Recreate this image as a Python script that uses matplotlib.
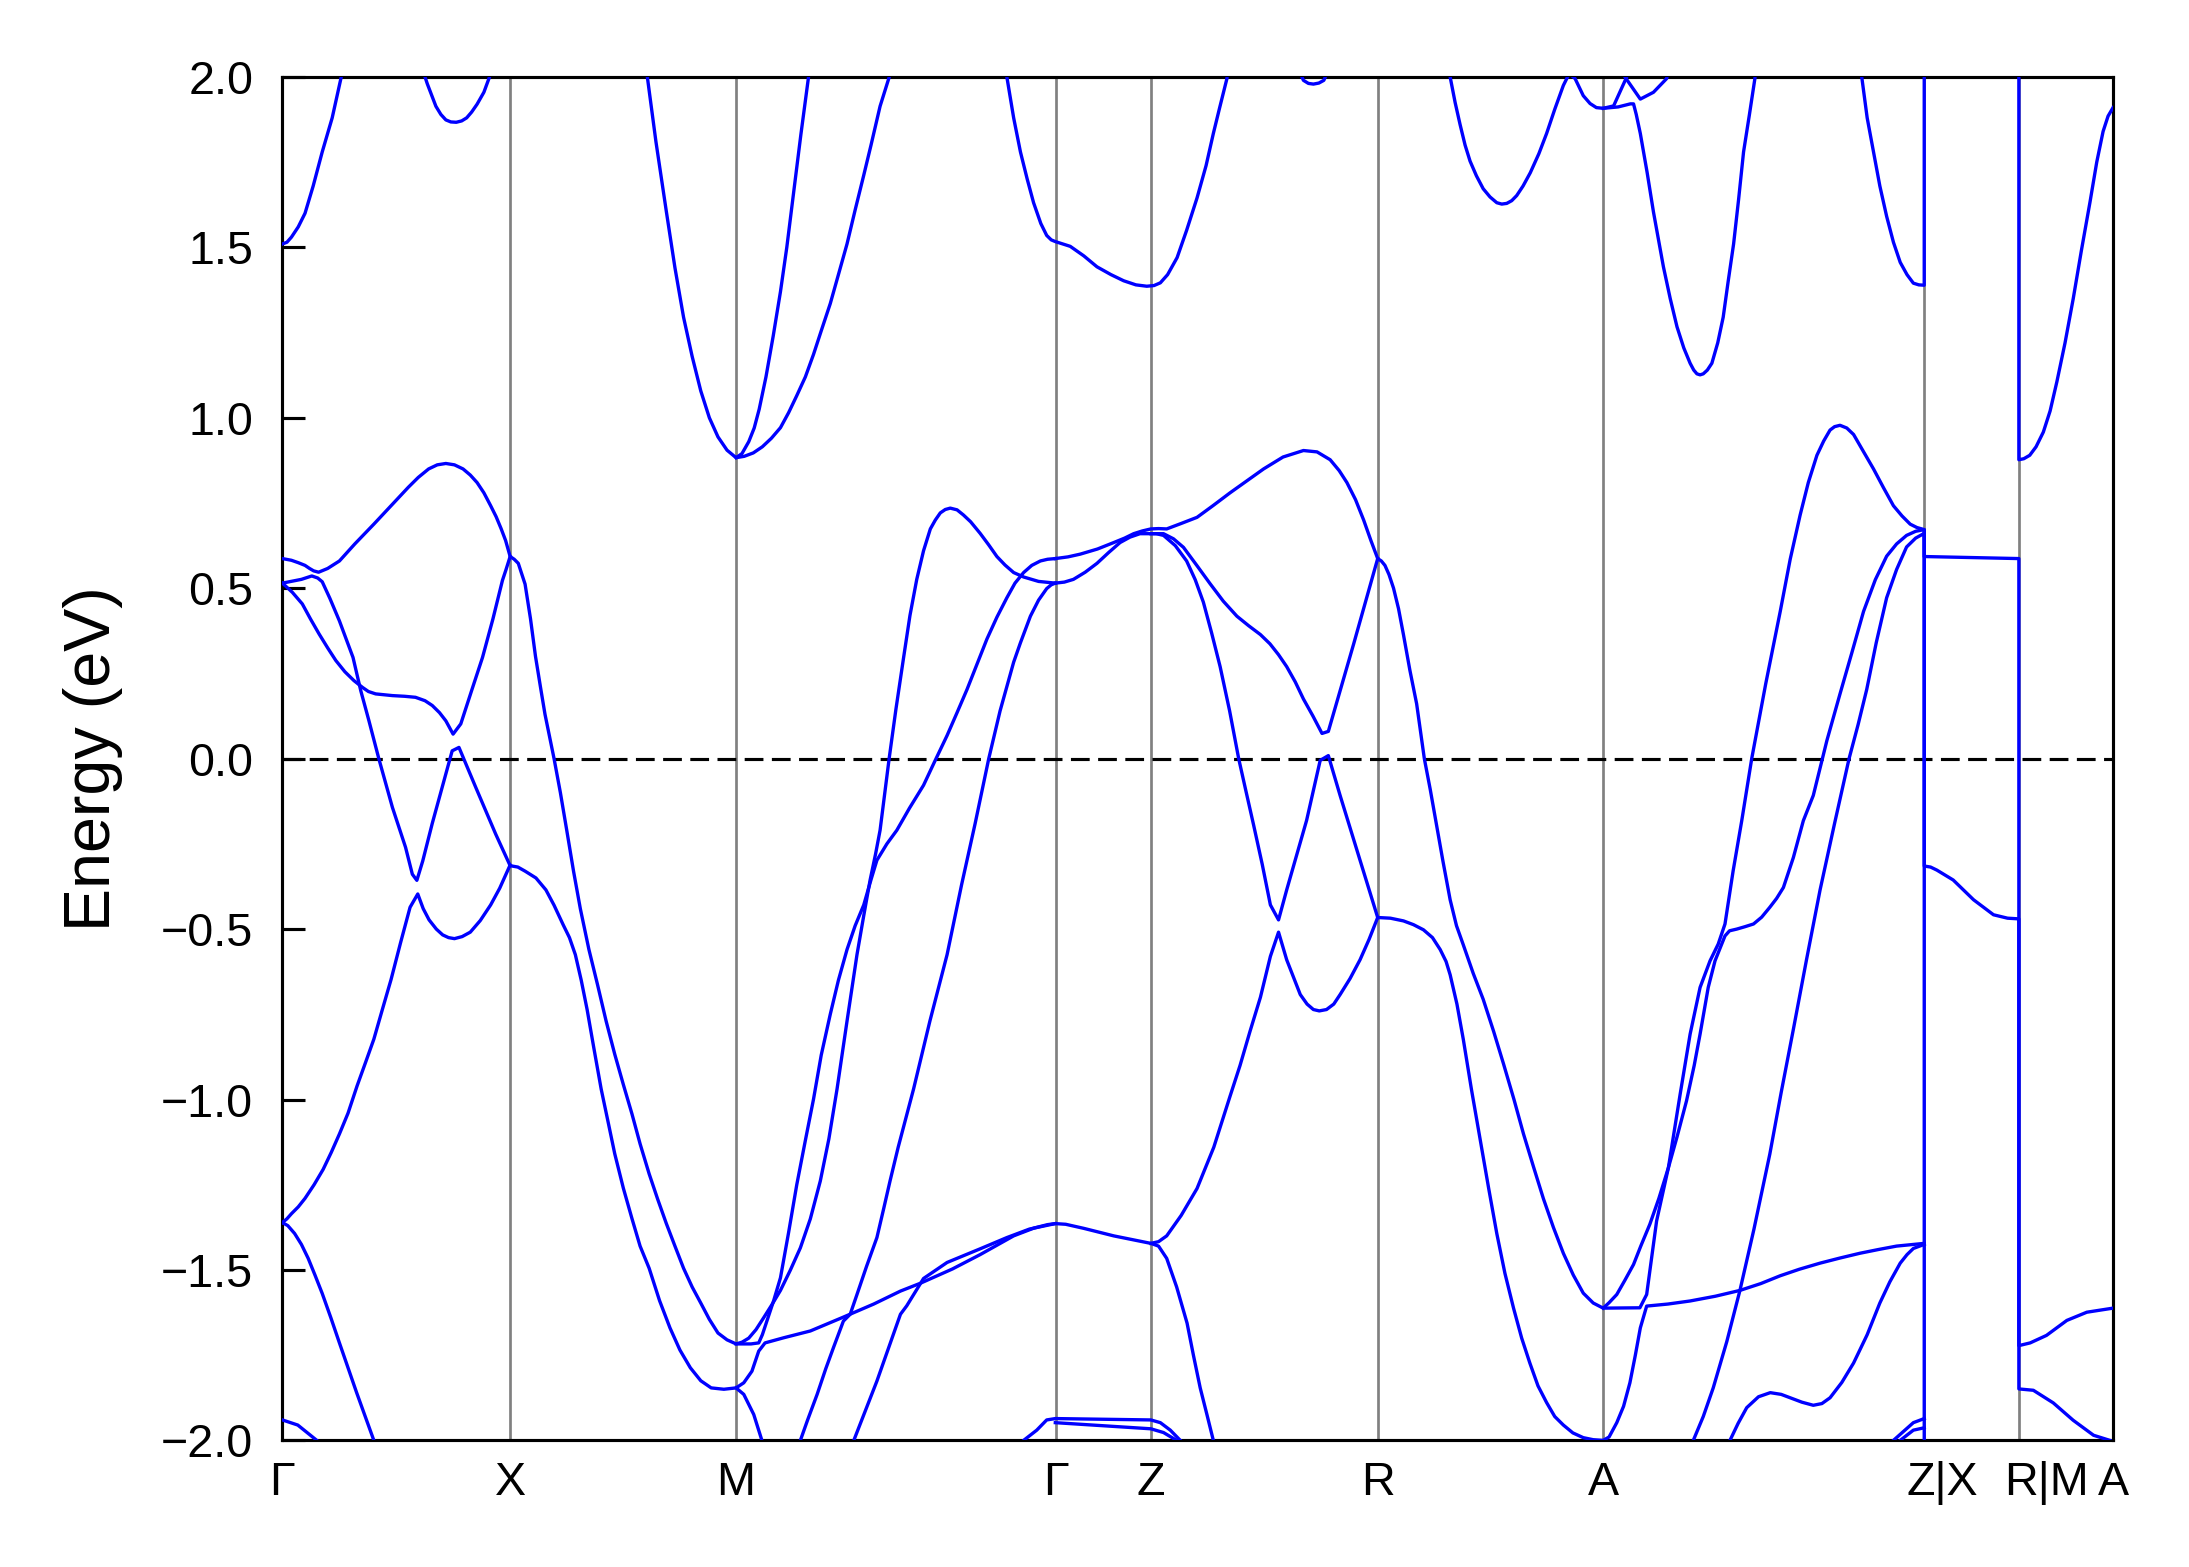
# -*- coding: utf-8 -*-
"""
Band structure along the high-symmetry path, E - E_F in eV.
"""

import matplotlib
matplotlib.use("Agg")
import matplotlib.pyplot as plt
import numpy as np

# high-symmetry points (k-path distance, 2pi/a units)
kpath_pos = [0.0, 0.503, 1.002, 1.708, 1.918, 2.419, 2.917, 3.626, 3.835, 4.043]
kpath_labels = ["Γ", "X", "M", "Γ", "Z", "R", "A", "Z|X", "R|M", "A"]
# where the label text sits (the two split labels sit a bit right of their line)
label_pos = [0.0, 0.503, 1.002, 1.708, 1.918, 2.419, 2.917, 3.666, 3.895, 4.043]

# band curves, (k, E) pairs
cb_gamma_x = [(0.0, 1.51), (0.01, 1.515), (0.02, 1.53), (0.035, 1.56), (0.05, 1.60),
              (0.068, 1.68), (0.088, 1.78), (0.11, 1.88), (0.13, 2.0), (0.137, 2.05)]
cb_pocket_x = [(0.31, 2.02), (0.32, 1.98), (0.339, 1.914), (0.35, 1.89), (0.361, 1.874),
               (0.372, 1.868), (0.384, 1.867), (0.396, 1.871), (0.407, 1.88), (0.418, 1.897),
               (0.43, 1.92), (0.445, 1.955), (0.463, 2.02)]
cb_m_wide = [(0.80, 2.05), (0.806, 2.0), (0.825, 1.81), (0.848, 1.605), (0.867, 1.44),
             (0.886, 1.295), (0.905, 1.18), (0.924, 1.079), (0.943, 1.0), (0.962, 0.944),
             (0.982, 0.905), (1.002, 0.883), (1.02, 0.887), (1.04, 0.897), (1.06, 0.915),
             (1.08, 0.94), (1.10, 0.971), (1.118, 1.015), (1.136, 1.065), (1.155, 1.12),
             (1.173, 1.186), (1.19, 1.255), (1.21, 1.335), (1.228, 1.42), (1.247, 1.51),
             (1.265, 1.61), (1.284, 1.712), (1.30, 1.80), (1.32, 1.914), (1.345, 2.02)]
cb_m_steep = [(1.002, 0.883), (1.015, 0.895), (1.03, 0.93), (1.042, 0.97), (1.053, 1.025),
              (1.068, 1.12), (1.084, 1.24), (1.10, 1.37), (1.114, 1.5), (1.129, 1.66),
              (1.145, 1.83), (1.162, 2.0), (1.167, 2.05)]
cb_gamma_z = [(1.595, 2.05), (1.60, 2.0), (1.615, 1.88), (1.63, 1.78), (1.645, 1.70),
              (1.659, 1.631), (1.675, 1.57), (1.688, 1.535), (1.698, 1.522), (1.707, 1.517),
              (1.74, 1.503), (1.77, 1.475), (1.799, 1.443), (1.83, 1.42), (1.858, 1.402),
              (1.885, 1.39), (1.909, 1.386), (1.925, 1.388), (1.939, 1.396), (1.955, 1.42),
              (1.976, 1.47), (1.997, 1.55), (2.02, 1.645), (2.04, 1.74), (2.056, 1.834),
              (2.07, 1.91), (2.086, 1.995), (2.09, 2.05)]
cb_pocket_r = [(2.245, 2.02), (2.255, 1.99), (2.266, 1.981), (2.277, 1.979), (2.289, 1.982),
               (2.30, 1.99), (2.31, 2.02)]
cb_r_a = [(2.575, 2.05), (2.579, 2.0), (2.59, 1.925), (2.601, 1.86), (2.612, 1.80),
          (2.623, 1.753), (2.637, 1.71), (2.652, 1.672), (2.667, 1.648), (2.682, 1.631),
          (2.693, 1.627), (2.704, 1.629), (2.715, 1.637), (2.726, 1.652), (2.74, 1.68),
          (2.756, 1.719), (2.775, 1.775), (2.792, 1.834), (2.81, 1.905), (2.829, 1.975),
          (2.842, 2.01), (2.855, 1.995), (2.873, 1.945), (2.888, 1.922), (2.902, 1.91),
          (2.917, 1.908), (2.95, 1.912), (2.977, 1.921), (2.984, 1.921), (2.99, 1.89),
          (2.999, 1.834), (3.014, 1.72), (3.028, 1.604), (3.05, 1.443), (3.065, 1.35),
          (3.08, 1.267), (3.095, 1.205), (3.109, 1.16), (3.117, 1.14), (3.124, 1.129),
          (3.131, 1.126), (3.138, 1.129), (3.147, 1.14), (3.157, 1.16), (3.17, 1.22),
          (3.182, 1.295), (3.193, 1.40), (3.205, 1.51), (3.216, 1.64), (3.227, 1.78),
          (3.24, 1.89), (3.252, 1.995), (3.256, 2.05)]
cb_a_up = [(2.917, 1.908), (2.94, 1.915), (2.969, 2.0), (2.975, 2.03)]
cb_a_small = [(2.955, 2.03), (2.965, 2.0), (2.999, 1.935), (3.028, 1.955), (3.057, 1.995),
              (3.062, 2.02)]
cb_zx = [(3.484, 2.05), (3.488, 2.0), (3.50, 1.88), (3.514, 1.78), (3.528, 1.68),
         (3.543, 1.591), (3.558, 1.515), (3.573, 1.456), (3.588, 1.42), (3.602, 1.395),
         (3.614, 1.39), (3.626, 1.389), (3.626, 2.1)]
cb_rm = [(3.835, 2.1), (3.835, 0.877), (3.846, 0.88), (3.859, 0.89), (3.873, 0.915),
         (3.889, 0.958), (3.904, 1.02), (3.919, 1.106), (3.937, 1.22), (3.955, 1.349),
         (3.973, 1.49), (3.992, 1.632), (4.007, 1.75), (4.021, 1.84), (4.032, 1.885),
         (4.043, 1.91)]

vb_a = [(0.0, 0.587), (0.02, 0.582), (0.035, 0.575), (0.05, 0.567), (0.06, 0.558),
        (0.069, 0.551), (0.08, 0.547), (0.1, 0.558), (0.126, 0.58), (0.16, 0.63),
        (0.202, 0.688), (0.24, 0.742), (0.278, 0.796), (0.30, 0.825), (0.323, 0.85),
        (0.342, 0.862), (0.361, 0.866), (0.38, 0.862), (0.399, 0.85), (0.415, 0.832),
        (0.43, 0.81), (0.445, 0.78), (0.46, 0.742), (0.472, 0.71), (0.483, 0.675),
        (0.493, 0.64), (0.503, 0.593), (0.512, 0.585), (0.521, 0.573), (0.536, 0.512),
        (0.548, 0.41), (0.559, 0.30), (0.57, 0.21), (0.58, 0.13), (0.59, 0.065),
        (0.60, 0.0), (0.614, -0.1), (0.628, -0.21), (0.643, -0.33), (0.658, -0.44),
        (0.677, -0.56), (0.696, -0.663), (0.715, -0.77), (0.734, -0.867), (0.753, -0.956),
        (0.772, -1.042), (0.79, -1.13), (0.81, -1.218), (0.829, -1.293), (0.848, -1.364),
        (0.867, -1.43), (0.886, -1.495), (0.905, -1.55), (0.924, -1.597), (0.943, -1.645),
        (0.962, -1.685), (0.982, -1.705), (1.002, -1.717), (1.015, -1.712), (1.03, -1.70),
        (1.046, -1.675), (1.063, -1.64), (1.082, -1.60), (1.1, -1.56), (1.122, -1.50),
        (1.144, -1.435), (1.166, -1.35), (1.188, -1.239), (1.207, -1.115), (1.225, -0.969),
        (1.247, -0.77), (1.269, -0.575), (1.284, -0.46), (1.298, -0.356), (1.31, -0.28),
        (1.32, -0.21), (1.34, 0.0), (1.355, 0.145), (1.372, 0.297), (1.386, 0.42),
        (1.401, 0.526), (1.416, 0.61), (1.431, 0.674), (1.442, 0.70), (1.453, 0.721),
        (1.464, 0.731), (1.475, 0.735), (1.49, 0.73), (1.504, 0.715), (1.52, 0.695),
        (1.541, 0.661), (1.56, 0.627), (1.578, 0.593), (1.596, 0.568), (1.615, 0.546),
        (1.637, 0.533), (1.67, 0.52), (1.707, 0.515)]
vb_b = [(0.0, 0.515), (0.042, 0.526), (0.065, 0.536), (0.078, 0.53), (0.088, 0.519),
        (0.105, 0.47), (0.126, 0.404), (0.156, 0.297), (0.173, 0.2), (0.191, 0.112),
        (0.213, 0.0), (0.243, -0.143), (0.272, -0.26), (0.287, -0.339), (0.297, -0.357),
        (0.31, -0.30), (0.331, -0.19), (0.375, 0.023), (0.39, 0.033), (0.427, -0.084),
        (0.471, -0.221), (0.503, -0.314), (0.52, -0.318), (0.536, -0.33), (0.56, -0.35),
        (0.582, -0.385), (0.60, -0.43), (0.62, -0.487), (0.634, -0.525), (0.647, -0.575),
        (0.66, -0.65), (0.673, -0.736), (0.688, -0.85), (0.704, -0.969), (0.72, -1.07),
        (0.734, -1.159), (0.753, -1.26), (0.772, -1.349), (0.79, -1.43), (0.81, -1.495),
        (0.833, -1.59), (0.856, -1.67), (0.878, -1.735), (0.901, -1.787), (0.924, -1.825),
        (0.947, -1.846), (0.975, -1.85), (1.002, -1.846), (1.019, -1.831), (1.037, -1.797),
        (1.052, -1.738), (1.066, -1.714), (1.107, -1.699), (1.166, -1.679), (1.236, -1.64),
        (1.306, -1.6), (1.365, -1.562), (1.409, -1.539), (1.48, -1.497), (1.541, -1.455),
        (1.615, -1.40), (1.66, -1.377), (1.69, -1.367), (1.707, -1.364), (1.73, -1.366),
        (1.77, -1.378), (1.836, -1.40), (1.918, -1.422), (1.935, -1.43), (1.953, -1.466),
        (1.975, -1.55), (1.998, -1.656), (2.012, -1.75), (2.027, -1.846), (2.042, -1.925),
        (2.056, -2.0), (2.062, -2.04)]
vb_c = [(0.0, 0.515), (0.022, 0.488), (0.044, 0.454), (0.062, 0.41), (0.081, 0.366),
        (0.10, 0.325), (0.118, 0.288), (0.138, 0.255), (0.158, 0.229), (0.177, 0.209),
        (0.19, 0.197), (0.206, 0.19), (0.243, 0.185), (0.27, 0.183), (0.294, 0.18),
        (0.315, 0.17), (0.331, 0.156), (0.347, 0.135), (0.361, 0.111), (0.377, 0.072),
        (0.394, 0.102), (0.418, 0.20), (0.442, 0.297), (0.465, 0.41), (0.486, 0.523),
        (0.494, 0.555), (0.503, 0.593)]
vb_d = [(0.0, -1.361), (0.01, -1.35), (0.02, -1.335), (0.035, -1.315), (0.05, -1.29),
        (0.07, -1.25), (0.09, -1.205), (0.108, -1.155), (0.126, -1.101), (0.145, -1.04),
        (0.165, -0.96), (0.184, -0.89), (0.202, -0.823), (0.221, -0.735), (0.24, -0.648),
        (0.261, -0.54), (0.282, -0.436), (0.299, -0.397), (0.311, -0.44), (0.324, -0.473),
        (0.34, -0.50), (0.354, -0.517), (0.367, -0.525), (0.38, -0.528), (0.397, -0.522),
        (0.415, -0.509), (0.437, -0.475), (0.46, -0.429), (0.48, -0.38), (0.503, -0.312)]
vb_e = [(0.0, -1.361), (0.012, -1.37), (0.027, -1.393), (0.042, -1.425), (0.057, -1.466),
        (0.072, -1.515), (0.088, -1.569), (0.107, -1.64), (0.126, -1.714), (0.145, -1.787),
        (0.164, -1.86), (0.183, -1.93), (0.202, -2.0), (0.21, -2.03)]
vb_f = [(0.0, -1.94), (0.034, -1.955), (0.076, -2.0), (0.085, -2.01)]
vb_g = [(1.002, -1.717), (1.035, -1.717), (1.052, -1.714), (1.06, -1.69), (1.07, -1.65),
        (1.085, -1.59), (1.1, -1.523), (1.118, -1.39), (1.136, -1.25), (1.155, -1.12),
        (1.173, -0.999), (1.19, -0.87), (1.21, -0.75), (1.228, -0.65), (1.247, -0.56),
        (1.265, -0.49), (1.284, -0.429), (1.30, -0.355), (1.313, -0.298), (1.335, -0.25),
        (1.357, -0.21), (1.385, -0.145), (1.416, -0.078), (1.44, -0.01), (1.468, 0.068),
        (1.49, 0.135), (1.512, 0.203), (1.534, 0.277), (1.556, 0.351), (1.578, 0.415),
        (1.60, 0.472), (1.618, 0.515), (1.637, 0.546), (1.655, 0.567), (1.674, 0.58),
        (1.69, 0.585), (1.707, 0.587)]
vb_h = [(1.135, -2.03), (1.144, -2.0), (1.16, -1.94), (1.181, -1.865), (1.20, -1.79),
        (1.217, -1.728), (1.239, -1.65), (1.254, -1.63), (1.269, -1.572), (1.29, -1.49),
        (1.313, -1.405), (1.328, -1.32), (1.342, -1.239), (1.36, -1.14), (1.394, -0.969),
        (1.43, -0.77), (1.468, -0.575), (1.50, -0.37), (1.53, -0.19), (1.56, 0.0),
        (1.585, 0.14), (1.615, 0.283), (1.63, 0.34), (1.652, 0.418), (1.67, 0.465),
        (1.688, 0.499), (1.698, 0.51), (1.707, 0.515)]
vb_i = [(1.255, -2.02), (1.262, -2.0), (1.313, -1.826), (1.365, -1.63), (1.379, -1.605),
        (1.416, -1.525), (1.468, -1.478), (1.541, -1.438), (1.60, -1.405), (1.65, -1.38),
        (1.707, -1.364)]
vb_m_low = [(1.002, -1.846), (1.019, -1.865), (1.041, -1.924), (1.059, -2.0), (1.063, -2.02)]
vb_gz_bot1 = [(1.63, -2.02), (1.637, -2.0), (1.666, -1.97), (1.688, -1.94), (1.707, -1.936),
              (1.918, -1.94), (1.939, -1.948), (1.961, -1.97), (1.983, -2.0), (1.99, -2.01)]
vb_gz_bot2 = [(1.707, -1.948), (1.918, -1.966), (1.946, -1.977), (1.975, -2.0), (1.985, -2.01)]
vb_z_up = [(1.918, -1.422), (1.935, -1.417), (1.953, -1.40), (1.985, -1.34), (2.02, -1.261),
           (2.057, -1.14), (2.093, -0.99), (2.115, -0.9), (2.137, -0.80), (2.16, -0.70),
           (2.182, -0.58), (2.2, -0.509), (2.218, -0.59), (2.248, -0.692), (2.263, -0.72),
           (2.277, -0.736), (2.29, -0.74), (2.306, -0.736), (2.322, -0.72), (2.336, -0.692),
           (2.358, -0.645), (2.38, -0.59), (2.40, -0.53), (2.419, -0.466)]
vb_upper = [(1.707, 0.587), (1.735, 0.592), (1.762, 0.60), (1.80, 0.615), (1.836, 0.634),
            (1.86, 0.647), (1.88, 0.66), (1.899, 0.668), (1.918, 0.674), (1.935, 0.675),
            (1.953, 0.674), (1.985, 0.69), (2.02, 0.708), (2.055, 0.742), (2.093, 0.78),
            (2.13, 0.815), (2.167, 0.85), (2.21, 0.885), (2.255, 0.904), (2.285, 0.90),
            (2.314, 0.877), (2.334, 0.845), (2.351, 0.81), (2.37, 0.76), (2.388, 0.70),
            (2.404, 0.64), (2.419, 0.587), (2.427, 0.58), (2.435, 0.567), (2.444, 0.54),
            (2.454, 0.50), (2.465, 0.44), (2.476, 0.363), (2.49, 0.26), (2.505, 0.161),
            (2.522, 0.0), (2.535, -0.09), (2.549, -0.195), (2.563, -0.30), (2.579, -0.414),
            (2.593, -0.49), (2.608, -0.546), (2.63, -0.63), (2.652, -0.706), (2.675, -0.80),
            (2.697, -0.896), (2.72, -1.0), (2.741, -1.101), (2.763, -1.197), (2.785, -1.291),
            (2.807, -1.375), (2.829, -1.451), (2.851, -1.515), (2.873, -1.568), (2.895, -1.597),
            (2.917, -1.612), (2.998, -1.611), (3.013, -1.572), (3.035, -1.356), (3.061, -1.2),
            (3.087, -0.984), (3.109, -0.808), (3.131, -0.671), (3.153, -0.593), (3.171, -0.544),
            (3.186, -0.485), (3.204, -0.329), (3.223, -0.182), (3.245, 0.0), (3.276, 0.22),
            (3.308, 0.432), (3.33, 0.585), (3.352, 0.715), (3.37, 0.81), (3.389, 0.89),
            (3.404, 0.932), (3.418, 0.964), (3.428, 0.974), (3.44, 0.978), (3.455, 0.97),
            (3.47, 0.951), (3.49, 0.905), (3.514, 0.85), (3.536, 0.795), (3.558, 0.742),
            (3.577, 0.712), (3.595, 0.688), (3.61, 0.678), (3.626, 0.672), (3.626, -2.1)]
vb_lower_gz = [(1.707, 0.515), (1.727, 0.518), (1.747, 0.526), (1.773, 0.547), (1.799, 0.573),
               (1.825, 0.605), (1.85, 0.634), (1.872, 0.65), (1.894, 0.66), (1.918, 0.66),
               (1.946, 0.66), (1.968, 0.645), (1.99, 0.62), (2.02, 0.566), (2.049, 0.513),
               (2.078, 0.462), (2.108, 0.418), (2.134, 0.39), (2.16, 0.364), (2.181, 0.337),
               (2.20, 0.305), (2.218, 0.27), (2.237, 0.225), (2.255, 0.175), (2.276, 0.125),
               (2.296, 0.074), (2.31, 0.08), (2.366, 0.337), (2.419, 0.587)]
vb_steep_z = [(1.918, 0.66), (1.93, 0.66), (1.946, 0.655), (1.972, 0.625), (1.997, 0.58),
              (2.016, 0.525), (2.034, 0.459), (2.052, 0.37), (2.071, 0.27), (2.092, 0.14),
              (2.112, 0.0), (2.128, -0.095), (2.145, -0.195), (2.164, -0.31), (2.182, -0.429),
              (2.2, -0.473), (2.218, -0.385), (2.262, -0.181), (2.292, -0.005), (2.31, 0.009),
              (2.336, -0.108), (2.38, -0.298), (2.419, -0.466), (2.447, -0.468), (2.476, -0.476),
              (2.498, -0.487), (2.52, -0.502), (2.54, -0.525), (2.557, -0.56), (2.57, -0.595),
              (2.579, -0.634), (2.594, -0.72), (2.608, -0.823), (2.626, -0.97), (2.645, -1.115),
              (2.664, -1.26), (2.682, -1.393), (2.70, -1.51), (2.719, -1.612), (2.737, -1.70),
              (2.755, -1.773), (2.773, -1.84), (2.792, -1.889), (2.81, -1.93), (2.829, -1.955),
              (2.85, -1.978), (2.873, -1.992), (2.895, -1.998), (2.917, -2.0), (2.93, -1.99),
              (2.947, -1.948), (2.962, -1.9), (2.976, -1.831), (2.988, -1.75), (2.999, -1.67),
              (3.013, -1.606), (3.06, -1.60), (3.109, -1.591), (3.165, -1.577), (3.219, -1.56),
              (3.265, -1.54), (3.308, -1.517), (3.35, -1.498), (3.396, -1.48), (3.44, -1.465),
              (3.484, -1.451), (3.525, -1.44), (3.565, -1.43), (3.626, -1.422)]
vb_p = [(2.917, -1.612), (2.93, -1.596), (2.947, -1.572), (2.965, -1.53), (2.984, -1.484),
        (3.0, -1.43), (3.02, -1.366), (3.04, -1.29), (3.061, -1.2), (3.08, -1.11),
        (3.101, -1.004), (3.118, -0.9), (3.131, -0.808), (3.149, -0.671), (3.164, -0.593),
        (3.186, -0.52), (3.196, -0.505), (3.212, -0.5), (3.23, -0.493), (3.249, -0.485),
        (3.267, -0.465), (3.285, -0.436), (3.30, -0.41), (3.315, -0.378), (3.337, -0.29),
        (3.359, -0.182), (3.381, -0.108), (3.411, 0.053), (3.44, 0.19), (3.466, 0.31),
        (3.492, 0.432), (3.518, 0.525), (3.543, 0.594), (3.565, 0.63), (3.587, 0.655),
        (3.607, 0.667), (3.626, 0.672), (3.626, -0.315), (3.64, -0.318), (3.654, -0.327),
        (3.69, -0.356), (3.735, -0.414), (3.779, -0.458), (3.81, -0.468), (3.835, -0.47),
        (3.835, -1.849), (3.867, -1.853), (3.911, -1.89), (3.955, -1.941), (4.0, -1.985),
        (4.036, -2.0)]
vb_s = [(3.11, -2.03), (3.116, -2.0), (3.138, -1.93), (3.16, -1.846), (3.19, -1.71),
        (3.219, -1.56), (3.25, -1.38), (3.285, -1.16), (3.31, -0.98), (3.337, -0.794),
        (3.366, -0.59), (3.396, -0.385), (3.428, -0.19), (3.46, 0.0), (3.48, 0.1),
        (3.499, 0.203), (3.52, 0.34), (3.543, 0.472), (3.565, 0.555), (3.587, 0.621),
        (3.607, 0.647), (3.626, 0.661), (3.626, 0.593), (3.835, 0.587), (3.835, -1.722),
        (3.86, -1.714), (3.896, -1.692), (3.941, -1.648), (3.985, -1.624), (4.043, -1.612)]
vb_w = [(3.19, -2.02), (3.197, -2.0), (3.215, -1.95), (3.234, -1.904), (3.26, -1.872),
        (3.286, -1.86), (3.31, -1.865), (3.33, -1.875), (3.356, -1.888), (3.381, -1.897),
        (3.40, -1.892), (3.418, -1.875), (3.444, -1.83), (3.47, -1.773), (3.50, -1.69),
        (3.528, -1.597), (3.55, -1.535), (3.573, -1.48), (3.588, -1.455), (3.602, -1.437),
        (3.626, -1.425)]
vb_zx_bot1 = [(3.55, -2.01), (3.558, -2.0), (3.602, -1.948), (3.626, -1.936)]
vb_zx_bot2 = [(3.568, -2.01), (3.573, -2.0), (3.602, -1.97), (3.626, -1.963)]

bands = [cb_gamma_x, cb_pocket_x, cb_m_wide, cb_m_steep, cb_gamma_z, cb_pocket_r, cb_r_a,
         cb_a_up, cb_a_small, cb_zx, cb_rm,
         vb_a, vb_b, vb_c, vb_d, vb_e, vb_f, vb_g, vb_h, vb_i, vb_m_low, vb_gz_bot1,
         vb_gz_bot2, vb_z_up, vb_upper, vb_lower_gz, vb_steep_z, vb_p, vb_s, vb_w,
         vb_zx_bot1, vb_zx_bot2]

plt.rcParams["font.family"] = ["Liberation Sans", "DejaVu Sans"]

fig = plt.figure(figsize=(2189 / 300, 1567 / 300), dpi=300)
ax = fig.add_axes([0.129, 0.0808, 0.9653 - 0.129, 0.9509 - 0.0808])

for pos in kpath_pos[1:-1]:
    ax.axvline(pos, color="gray", lw=0.65, zorder=1)
ax.axhline(0, color="black", lw=0.75, dashes=(6, 2.7), zorder=2)

for band in bands:
    k, e = zip(*band)
    ax.plot(k, e, color="blue", lw=0.8, zorder=3)

ax.set_xlim(kpath_pos[0], kpath_pos[-1])
ax.set_ylim(-2, 2)
ax.set_yticks(np.arange(-2, 2.01, 0.5))
ax.set_xticks(label_pos)
ax.set_xticklabels(kpath_labels)

ax.tick_params(axis="y", direction="in", length=5.6, width=0.75, labelsize=11.2, pad=7)
ax.tick_params(axis="x", length=0, labelsize=11.2, pad=5)
ax.set_ylabel("Energy (eV)", fontsize=15.5, labelpad=9)
for sp in ax.spines.values():
    sp.set_linewidth(0.75)

fig.savefig("out.png", dpi=300)
